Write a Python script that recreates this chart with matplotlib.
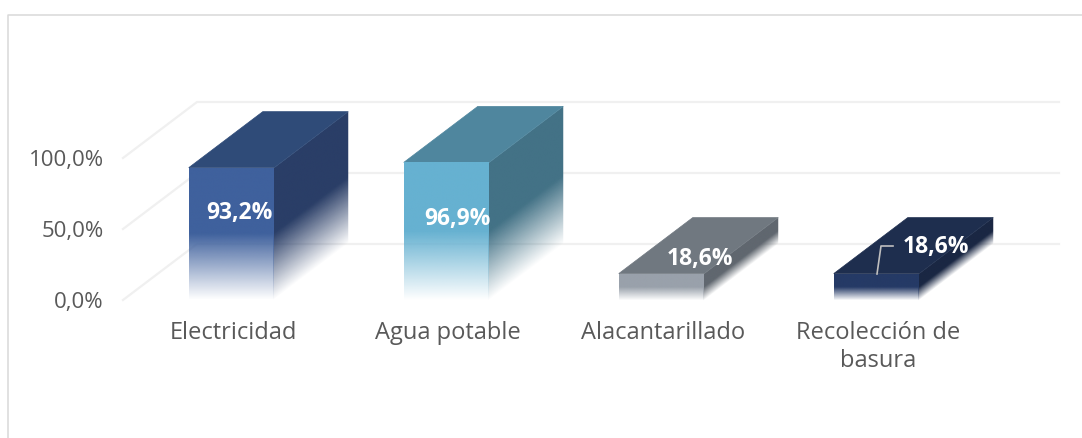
import numpy as np
import matplotlib
matplotlib.use('Agg')
import matplotlib.pyplot as plt
from matplotlib.colors import to_rgb
from matplotlib.patches import Polygon
from matplotlib.transforms import Affine2D

categories = ['Electricidad', 'Agua potable', 'Alacantarillado', 'Recolección de\nbasura']
values = [93.2, 96.9, 18.6, 18.6]
value_labels = ['93,2%', '96,9%', '18,6%', '18,6%']
y_ticks = [0, 50, 100]
y_tick_labels = ['0,0%', '50,0%', '100,0%']

front_colors = ['#3f619d', '#66b1d1', '#99a1ab', '#253a66']
top_colors = ['#2f4b78', '#4f869e', '#707880', '#1e2e4e']
side_colors = ['#2a3e67', '#437286', '#60676f', '#1a2743']

W, H = 1082, 438
PX_X = 215.0    # px per category
PX_Y = 1.42     # px per percent
X0, Y0 = 231.5, 300.0
BAR_W = 85.5 / PX_X
DX = 74 / PX_X
DY = 56 / PX_Y

plt.rcParams['font.family'] = ['Open Sans', 'DejaVu Sans']
fig = plt.figure(figsize=(W / 100, H / 100), dpi=100)
ax = fig.add_axes([0, 0, 1, 1])
xlim = (-X0 / PX_X, (W - X0) / PX_X)
ylim = ((Y0 - H) / PX_Y, Y0 / PX_Y)
ax.axis('off')


def px(x, y):
    return (x - X0) / PX_X, (Y0 - y) / PX_Y


# chart border
bx, by = zip(px(7.5, H), px(7.5, 14.5), px(W, 14.5))
ax.plot(bx, by, color='#d9d9d9', lw=1.1, zorder=1)

# grid: floor/back wall lines
x_left = px(123, 0)[0]
x_back = x_left + DX
x_right = px(1059, 0)[0]
for t, lab in zip(y_ticks, y_tick_labels):
    ax.plot([x_left, x_back, x_right], [t, t + DY, t + DY], color='#f0f0f0', lw=1.6, zorder=1)
    ax.text(px(104, 0)[0], t - 2, lab, ha='right', va='center', fontsize=16, color='#595959')


def fade_face(x0, x1, v, color, shear):
    # face fades out over the lower half of the bar
    n = 300
    pad = 0.1 * v
    y = np.linspace(v + pad, -pad, n)
    rgba = np.ones((n, 2, 4))
    rgba[..., :3] = to_rgb(color)
    rgba[..., 3] = np.clip(y / (v * 0.5), 0, 1)[:, None]
    slope = DY / (x1 - x0) if shear else 0
    shift = Affine2D.from_values(1, slope, 0, 1, 0, -slope * x0)
    tr = shift + ax.transData
    im = ax.imshow(rgba, extent=(x0 - 0.02, x1 + 0.02, -pad, v + pad), transform=tr,
                   aspect='auto', interpolation='bilinear', zorder=3 if shear else 3.5)
    # side face runs slightly under the front face so no seam shows
    inner = x0 - 0.004 if shear else x0
    im.set_clip_path(Polygon([(inner, 0), (x1, 0), (x1, v), (inner, v)], transform=tr))


for i, v in enumerate(values):
    left = i - BAR_W / 2
    right = i + BAR_W / 2
    fade_face(right, right + DX, v, side_colors[i], True)
    fade_face(left, right, v, front_colors[i], False)
    ax.add_patch(Polygon([(left, v), (right, v), (right + DX, v + DY), (left + DX, v + DY)],
                         fc=top_colors[i], ec=top_colors[i], lw=0.5, zorder=3.2))
    ax.text(i + 0.008, -15, categories[i], ha='center', va='top',
            fontsize=17, color='#595959', linespacing=1.18)

# data labels
label_px = [(239, 213), (457, 219), (700, 259), (936, 247)]
for (lx, ly), s in zip(label_px, value_labels):
    x, y = px(lx, ly)
    ax.text(x, y, s, ha='center', va='center', fontsize=16.5, fontweight='bold', color='white', zorder=6)

# leader line on the last bar
lead = [px(877, 274), px(881, 246), px(893, 246)]
ax.plot(*zip(*lead), color='#bfbfbf', lw=1.2, zorder=5)

ax.set_xlim(xlim)
ax.set_ylim(ylim)
fig.savefig('out.png', dpi=100)
